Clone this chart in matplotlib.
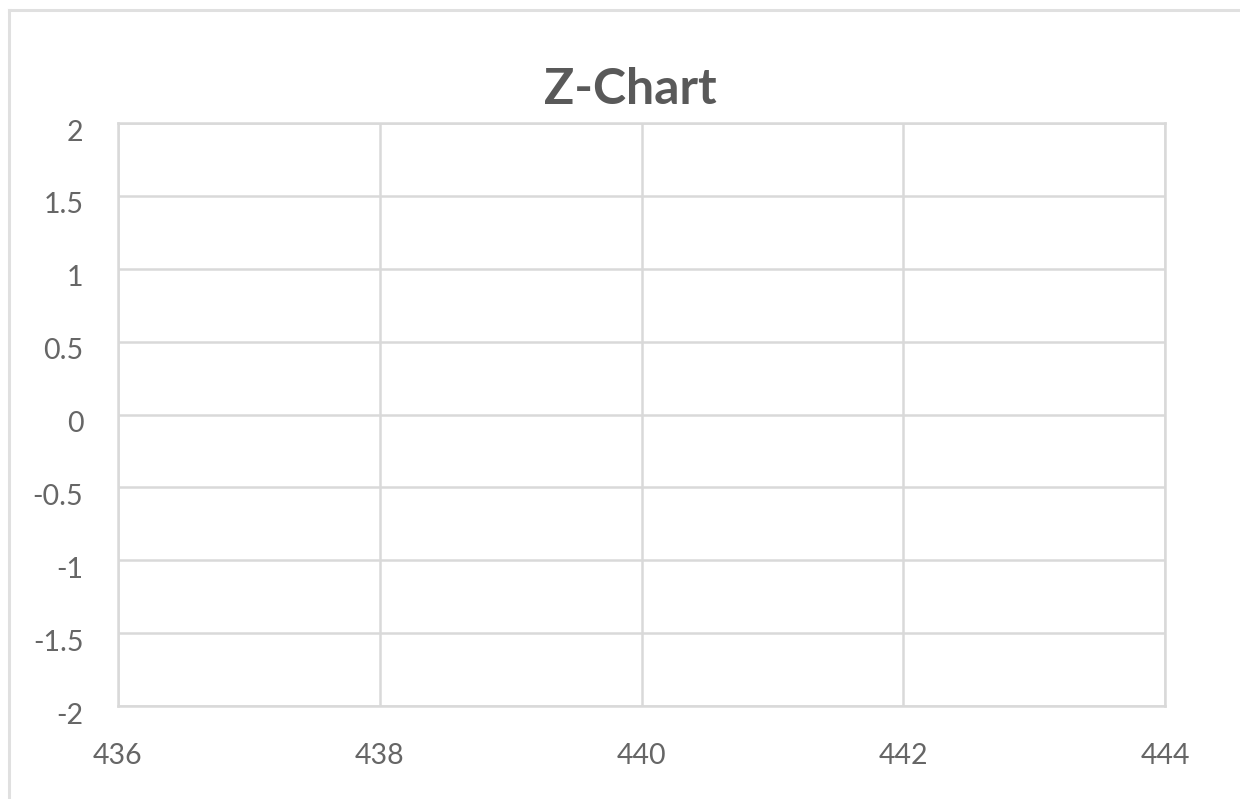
import numpy as np
import matplotlib
matplotlib.use('Agg')
import matplotlib.pyplot as plt
import matplotlib.transforms as mtransforms
from matplotlib.lines import Line2D

# chart content (empty z-chart: only axes, no series drawn)
title = 'Z-Chart'
x_ticks = [436, 438, 440, 442, 444]
y_ticks = [-2, -1.5, -1, -0.5, 0, 0.5, 1, 1.5, 2]
y_labels = ['-2', '-1.5', '-1', '-0.5', '0', '0.5', '1', '1.5', '2']

grid_col = '#d9d9d9'
text_col = '#595959'

plt.rcParams['font.family'] = ['Lato', 'DejaVu Sans']

fig = plt.figure(figsize=(12.4, 7.99), dpi=100)
ax = fig.add_axes([118/1240, 1 - 706/799, (1165-118)/1240, (706-123)/799])

# outer chart border: only top and left edges show, rest is cut off
bx, by = 9/1240, 1 - 10/799
fig.lines.append(Line2D([bx, 1.0], [by, by], transform=fig.transFigure,
                        color='#e0e0e0', linewidth=2.2))
fig.lines.append(Line2D([bx, bx], [0.0, by], transform=fig.transFigure,
                        color='#e0e0e0', linewidth=2.2))

ax.set_xlim(x_ticks[0], x_ticks[-1])
ax.set_ylim(y_ticks[0], y_ticks[-1])
ax.set_xticks(x_ticks)
ax.set_yticks(y_ticks)
ax.set_yticklabels(y_labels)

ax.grid(True, color=grid_col, linewidth=1.8)
ax.set_axisbelow(True)
for sp in ax.spines.values():
    sp.set_color(grid_col)
    sp.set_linewidth(1.8)

ax.tick_params(axis='both', length=0, labelsize=20.5, labelcolor='#666666')
ax.tick_params(axis='y', pad=25)
ax.tick_params(axis='x', pad=27)

# y labels in excel sit a little under their gridline
offset = mtransforms.ScaledTranslation(0, -7/100, fig.dpi_scale_trans)
for lbl in ax.get_yticklabels():
    lbl.set_transform(lbl.get_transform() + offset)

fig.text(630/1240, 1 - 89/799, title, ha='center', va='center',
         fontsize=36, fontweight='bold', color=text_col)

fig.savefig('out.png', dpi=100)
